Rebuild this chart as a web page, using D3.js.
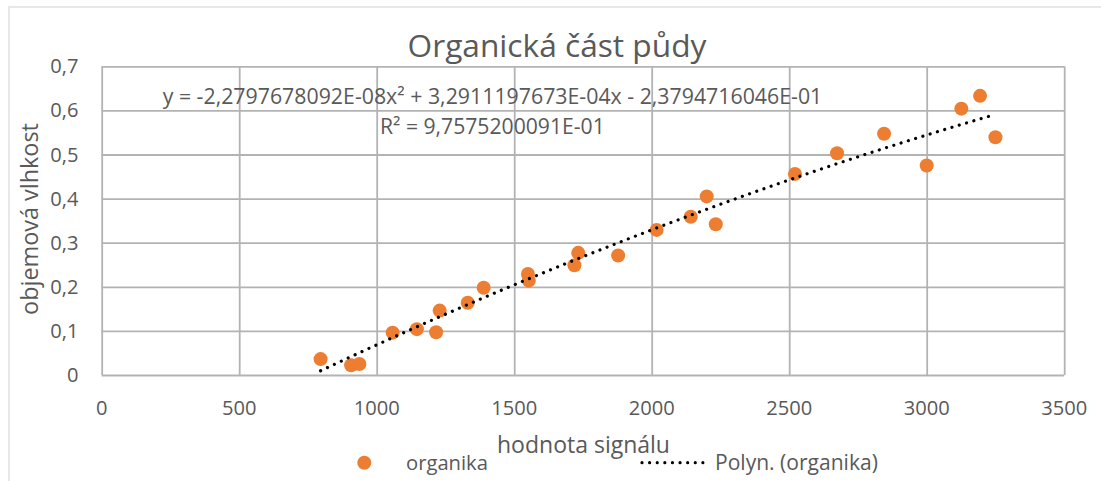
<!DOCTYPE html>
<html lang="cs">
<head>
  <meta charset="utf-8" />
  <title>Organická část půdy</title>
  <script src="https://cdn.jsdelivr.net/npm/d3@7"></script>
  <style>
    body { margin: 0; background: #fff; }
    text { font-family: "Open Sans", "Noto Sans", sans-serif; fill: #595959; font-size: 20px; }
    .grid line { stroke: #b3b3b3; stroke-width: 1.8px; }
    .grid .domain { display: none; }
  </style>
</head>
<body>
<svg id="chart" width="1101" height="481"></svg>
<script>
  // hodnota signálu (x) a objemová vlhkost (y)
  const signal = [796, 907, 937, 1058, 1146, 1216, 1229, 1331, 1389, 1550, 1553, 1719, 1733,
                  1878, 2018, 2142, 2200, 2233, 2521, 2674, 2845, 3000, 3126, 3194, 3250];
  const moisture = [0.036, 0.022, 0.025, 0.096, 0.104, 0.097, 0.146, 0.164, 0.198, 0.229, 0.214, 0.249, 0.277,
                    0.271, 0.329, 0.359, 0.405, 0.342, 0.456, 0.503, 0.547, 0.475, 0.604, 0.633, 0.539];

  // koeficienty polynomické spojnice trendu (c0, c1, c2) z rovnice v grafu
  const trendCoef = [-2.3794716046E-01, 3.2911197673E-04, -2.2797678092E-08];

  const xTicks = [0, 500, 1000, 1500, 2000, 2500, 3000, 3500];
  const yTicks = [0, 0.1, 0.2, 0.3, 0.4, 0.5, 0.6, 0.7];

  const title = "Organická část půdy";
  const xTitle = "hodnota signálu";
  const yTitle = "objemová vlhkost";
  const eqText = "y = -2,2797678092E-08x² + 3,2911197673E-04x - 2,3794716046E-01";
  const r2Text = "R² = 9,7575200091E-01";
  const legendNames = ["organika", "Polyn. (organika)"];

  const svg = d3.select("#chart");
  const orange = "#ED7D31";

  // nastaví velikost písma tak, aby text měl danou šířku
  function fitWidth(sel, w) {
    sel.style("font-size", "20px");
    const len = sel.node().getComputedTextLength();
    const fs = 20 * w / len;
    sel.style("font-size", fs + "px");
    return fs;
  }

  // rámeček grafu
  svg.append("rect")
    .attr("x", 9).attr("y", 7).attr("width", 1100).attr("height", 480)
    .attr("fill", "none").attr("stroke", "#d9d9d9").attr("stroke-width", 1.2);

  const x = d3.scaleLinear().domain([0, 3500]).range([101.7, 1064.2]);
  const y = d3.scaleLinear().domain([0, 0.7]).range([375, 66.3]);
  const fmt = d => String(+d.toFixed(1)).replace(".", ",");

  // mřížka
  svg.append("g").attr("class", "grid")
    .attr("transform", "translate(0,375)")
    .call(d3.axisBottom(x).tickValues(xTicks).tickSize(-(375 - 66.3)).tickFormat(""));
  svg.append("g").attr("class", "grid")
    .attr("transform", "translate(101.7,0)")
    .call(d3.axisLeft(y).tickValues(yTicks).tickSize(-(1064.2 - 101.7)).tickFormat(""));

  // popisky os
  const xl = svg.append("g").selectAll("text").data(xTicks).join("text")
    .attr("x", d => x(d)).attr("y", 415).attr("text-anchor", "middle").text(d => d);
  const tickSize = fitWidth(xl.filter(d => d === 1000), 46);
  xl.style("font-size", tickSize + "px");
  svg.append("g").selectAll("text").data(yTicks).join("text")
    .attr("x", 78.5).attr("y", d => y(d) + 7).attr("text-anchor", "end")
    .style("font-size", tickSize + "px").text(fmt);

  // body
  svg.append("g").selectAll("circle").data(signal).join("circle")
    .attr("cx", d => x(d)).attr("cy", (d, i) => y(moisture[i]))
    .attr("r", 7).attr("fill", orange);

  // spojnice trendu
  const xs = d3.range(d3.min(signal), d3.max(signal) + 1, 5);
  const poly = v => trendCoef[0] + trendCoef[1] * v + trendCoef[2] * v * v;
  svg.append("path")
    .datum(xs)
    .attr("d", d3.line().x(d => x(d)).y(d => y(poly(d))))
    .attr("fill", "none").attr("stroke", "#000").attr("stroke-width", 3.2)
    .attr("stroke-linecap", "round").attr("stroke-dasharray", "0.01 7.6");

  // rovnice a R²
  const eq = svg.append("text").attr("x", 162.7).attr("y", 104).text(eqText);
  fitWidth(eq, 660);
  const r2 = svg.append("text").attr("x", 380).attr("y", 134).text(r2Text);
  fitWidth(r2, 225);

  // nadpis
  const t = svg.append("text").attr("x", 557).attr("y", 56.7).attr("text-anchor", "middle").text(title);
  fitWidth(t, 299);

  // názvy os
  const xt = svg.append("text").attr("x", 583.5).attr("y", 453).attr("text-anchor", "middle").text(xTitle);
  fitWidth(xt, 173);
  const yt = svg.append("text").attr("transform", "translate(37.5,219) rotate(-90)")
    .attr("text-anchor", "middle").text(yTitle);
  fitWidth(yt, 192);

  // legenda
  svg.append("circle").attr("cx", 364.3).attr("cy", 462.7).attr("r", 7).attr("fill", orange);
  const l1 = svg.append("text").attr("x", 406).attr("y", 469.5).text(legendNames[0]);
  fitWidth(l1, 82);
  svg.append("line").attr("x1", 642).attr("x2", 703).attr("y1", 462.7).attr("y2", 462.7)
    .attr("stroke", "#000").attr("stroke-width", 3.2)
    .attr("stroke-linecap", "round").attr("stroke-dasharray", "0.01 7.6");
  const l2 = svg.append("text").attr("x", 715).attr("y", 469.5).text(legendNames[1]);
  fitWidth(l2, 163);
</script>
</body>
</html>
